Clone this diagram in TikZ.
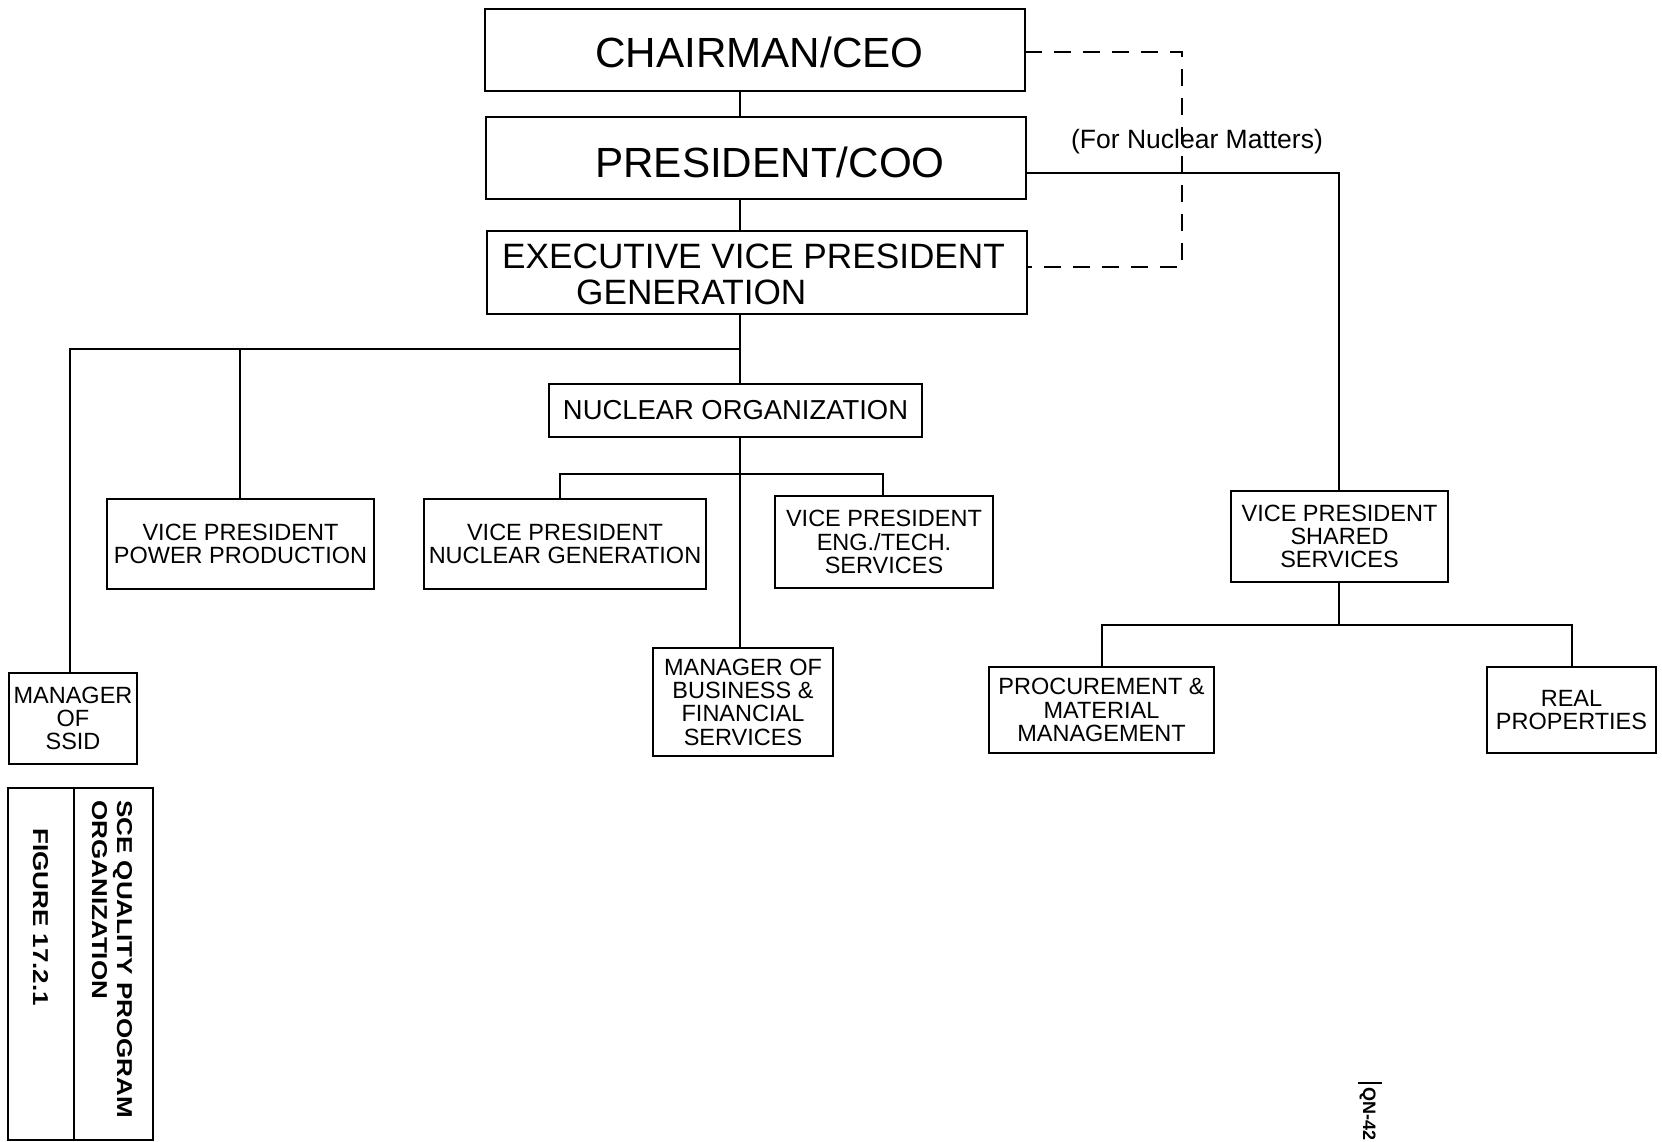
\documentclass[tikz,border=0pt]{standalone}
\usepackage{fontspec}
\setmainfont{Liberation Sans}
\begin{document}
\begin{tikzpicture}[x=1pt,y=-1pt,
  box/.style={draw, line width=2.4pt, inner sep=0pt, outer sep=0pt, align=center,
    font=\fontsize{23.5}{23.3}\selectfont},
  conn/.style={line width=2.1pt},
  dconn/.style={line width=2.1pt, dash pattern=on 17pt off 12pt},
  bigtxt/.style={inner sep=0pt, font=\fontsize{42.2}{50}\selectfont},
  evptxt/.style={inner sep=0pt, anchor=base west, font=\fontsize{35.2}{40}\selectfont},
  vtxt/.style={inner sep=0pt, rotate=-90, anchor=base west, font=\fontsize{21.5}{26}\selectfont\bfseries}]
\useasboundingbox (0,0) rectangle (1662,1142);

% boxes
\node[box, minimum width=540, minimum height=82] (ceo) at (755,50) {};
\node[box, minimum width=540, minimum height=82] (coo) at (756,158) {};
\node[box, minimum width=540, minimum height=83] (evp) at (757,272.5) {};
\node[box, minimum width=373, minimum height=53, font=\fontsize{27.4}{30}\selectfont] (nuc) at (735.5,410.5) {NUCLEAR ORGANIZATION};
\node[box, minimum width=267, minimum height=90] (vppp) at (240.5,544) {VICE PRESIDENT\\POWER PRODUCTION};
\node[box, minimum width=282, minimum height=90] (vpng) at (565,544) {VICE PRESIDENT\\NUCLEAR GENERATION};
\node[box, minimum width=218, minimum height=92] (vpeng) at (884,542) {VICE PRESIDENT\\ENG./TECH.\\SERVICES};
\node[box, minimum width=180, minimum height=108] (mbfs) at (743,702) {MANAGER OF\\BUSINESS \&\\FINANCIAL\\SERVICES};
\node[box, minimum width=128, minimum height=91] (ssid) at (73,718.5) {MANAGER\\OF\\SSID};
\node[box, minimum width=217, minimum height=91] (vpss) at (1339.5,536.5) {VICE PRESIDENT\\SHARED\\SERVICES};
\node[box, minimum width=225, minimum height=86] (proc) at (1101.5,710) {PROCUREMENT \&\\MATERIAL\\MANAGEMENT};
\node[box, minimum width=169, minimum height=86] (real) at (1571.5,710) {REAL\\PROPERTIES};

% texts of top boxes
\node[bigtxt, anchor=base] (ceotxt) at (759.5,68) {CHAIRMAN/CEO};
\node[bigtxt, anchor=base] (cootxt) at (770,178) {PRESIDENT/COO};
\node[evptxt] (evptxt1) at (502,268) {EXECUTIVE VICE PRESIDENT};
\node[evptxt] (evptxt2) at (576,304) {GENERATION};

% coordinates
\coordinate (tk) at (740,0);
\coordinate (barL) at (70,349);
\coordinate (barM) at (240,349);
\coordinate (barR) at (740,349);
\coordinate (nbarL) at (560,474);
\coordinate (nbarR) at (883,474);
\coordinate (rk) at (1339,173);
\coordinate (sbar) at (1339,625);
\coordinate (sbarL) at (1102,625);
\coordinate (sbarR) at (1572,625);
\coordinate (dk1) at (1182,52);
\coordinate (dk2) at (1182,267);

% connectors
\draw[conn] (ceo.south -| tk) -- (coo.north -| tk);
\draw[conn] (coo.south -| tk) -- (evp.north -| tk);
\draw[conn] (evp.south -| tk) -- (nuc.north -| tk);
\draw[conn] (ssid.north -| barL) -- (barL) -- (barR);
\draw[conn] (barM) -- (vppp.north -| barM);
\draw[conn] (nuc.south -| tk) -- (mbfs.north -| tk);
\draw[conn] (vpng.north -| nbarL) -- (nbarL) -- (nbarR) -- (vpeng.north -| nbarR);
\draw[conn] (coo.east |- rk) -- (rk) -- (vpss.north -| rk);
\draw[conn] (vpss.south -| sbar) -- (sbar);
\draw[conn] (proc.north -| sbarL) -- (sbarL) -- (sbarR) -- (real.north -| sbarR);
\draw[dconn] (ceo.east |- dk1) -- (dk1) -- (dk2) -- (evp.east |- dk2);
\node[inner sep=0pt, anchor=base, font=\fontsize{26.5}{30}\selectfont] (nucm) at (1197,149) {(For Nuclear Matters)};

% title block
\node[draw, line width=2.4pt, inner sep=0pt, minimum width=145, minimum height=352] (title) at (80.5,964) {};
\coordinate (dv) at (74,0);
\draw[line width=2.4pt] (title.north -| dv) -- (title.south -| dv);
\node[vtxt] (t1) at (117,800) {\scalebox{1.21}[1]{SCE QUALITY PROGRAM}};
\node[vtxt] (t2) at (92,800) {\scalebox{1.21}[1]{ORGANIZATION}};
\node[vtxt] (t3) at (33,828) {\scalebox{1.21}[1]{FIGURE 17.2.1}};

% page mark
\coordinate (qa) at (1358,1083);
\coordinate (qb) at (1382,1083);
\draw[line width=1.5pt] (qa) -- (qb);
\node[inner sep=0pt, rotate=-90, anchor=base west, font=\fontsize{18}{20}\selectfont\bfseries] (qn) at (1363,1087) {QN-42};
\end{tikzpicture}
\end{document}
